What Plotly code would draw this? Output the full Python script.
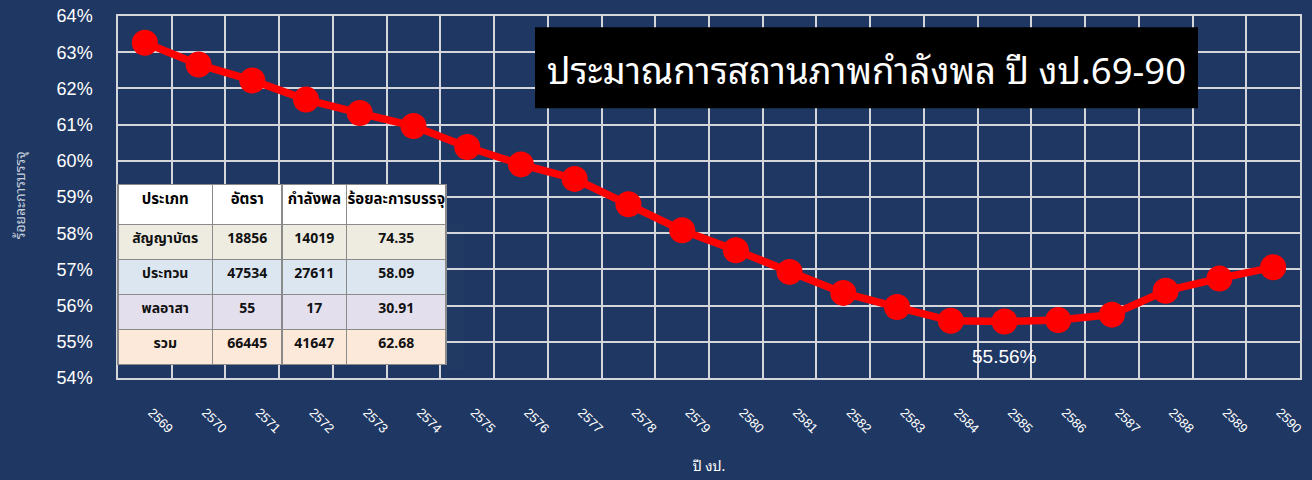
import plotly.graph_objects as go

years = list(range(2569, 2591))
year_labels = [str(y) for y in years]
rates = [63.26, 62.66, 62.22, 61.69, 61.32, 60.96, 60.38, 59.90, 59.50, 58.80, 58.08,
         57.53, 56.93, 56.35, 55.96, 55.58, 55.56, 55.60, 55.75, 56.41, 56.75, 57.06]

y_ticks = list(range(54, 65))
y_labels = [f"{v}%" for v in y_ticks]

tbl_header = ["ประเภท", "อัตรา", "กำลังพล", "ร้อยละการบรรจุ"]
tbl_types = ["สัญญาบัตร", "ประทวน", "พลอาสา", "รวม"]
tbl_posts = ["18856", "47534", "55", "66445"]
tbl_staff = ["14019", "27611", "17", "41647"]
tbl_pct = ["74.35", "58.09", "30.91", "62.68"]
row_colors = ["#eeece1", "#dce6f1", "#e4dfec", "#fde9d9"]

title_text = "ประมาณการสถานภาพกำลังพล ปี งป.69-90"
min_label = "55.56%"
min_year = 2585
min_value = 55.56

BG = "#1f3863"
GRID = "#d4d6db"
FONT = "Liberation Sans, Arial, sans-serif"
THAI = "Noto Sans Thai Looped, Noto Sans Thai, Loma, Garuda, Liberation Sans, sans-serif"
NARROW = "Liberation Sans Narrow, Noto Sans Thai, sans-serif"

fig = go.Figure()

fig.add_trace(go.Scatter(
    x=years, y=rates, mode="lines+markers",
    line=dict(color="#ff0000", width=7.5),
    marker=dict(color="#ff0000", size=26),
    showlegend=False,
))

fig.add_trace(go.Table(
    domain=dict(x=[0.0, 0.2775], y=[0.02, 0.535]),
    columnwidth=[95, 70, 65, 100],
    header=dict(values=tbl_header, fill_color="white", height=40,
                line=dict(color="#8a8a8a", width=1.5), align="center",
                font=dict(family=NARROW, size=15, color="black", weight="bold")),
    cells=dict(values=[tbl_types, tbl_posts, tbl_staff, tbl_pct],
               fill_color=[row_colors] * 4, height=35,
               line=dict(color="#8a8a8a", width=1.5), align="center",
               font=dict(family=NARROW, size=14, color="#111111", weight="bold")),
))

fig.add_shape(type="rect", xref="paper", yref="paper",
              x0=0.3528, x1=0.9137, y0=0.745, y1=0.969,
              fillcolor="black", line=dict(width=0), layer="above")
fig.add_annotation(xref="paper", yref="paper", x=0.6333, y=0.857,
                   xanchor="center", yanchor="middle",
                   text=title_text, showarrow=False,
                   font=dict(family=THAI, size=36.5, color="white"))

fig.add_annotation(x=min_year, y=min_value, text=min_label, showarrow=False,
                   xanchor="center", yanchor="middle",
                   yshift=-35, font=dict(family=FONT, size=19, color="white"))

fig.add_annotation(xref="paper", yref="paper", x=-0.0846, y=0.505,
                   xanchor="center", yanchor="middle",
                   text="ร้อยละการบรรจุ", textangle=-90, showarrow=False,
                   font=dict(family=THAI, size=14, color="#c9d0dc"))

fig.update_layout(
    width=1312, height=480,
    margin=dict(l=118, r=12, t=16, b=102),
    paper_bgcolor=BG, plot_bgcolor=BG,
    xaxis=dict(range=[years[0] - 0.5, years[-1] + 0.5], automargin=False,
               tickmode="array", tickvals=years, ticktext=year_labels,
               showgrid=False, tickangle=45, ticklabelshift=7,
               ticks="outside", ticklen=20, tickcolor="rgba(0,0,0,0)",
               tickfont=dict(family=FONT, size=13, color="white"),
               minor=dict(tick0=years[0] - 0.5, dtick=1, showgrid=True,
                          gridcolor=GRID, gridwidth=1.5),
               showline=True, linecolor=GRID, linewidth=1.5, mirror=True,
               title=dict(text="ปี งป.", font=dict(family=THAI, size=14, color="white"),
                          standoff=26),
               zeroline=False),
    yaxis=dict(range=[54, 64], tickmode="array", tickvals=y_ticks, ticktext=y_labels,
               automargin=False,
               showgrid=True, gridcolor=GRID, gridwidth=1.5,
               ticks="outside", ticklen=20, tickcolor="rgba(0,0,0,0)",
               tickfont=dict(family=FONT, size=18, color="white"),
               showline=True, linecolor=GRID, linewidth=1.5, mirror=True,
               zeroline=False),
)

fig.write_html("out.html", config={"displayModeBar": False},
               post_script="document.body.style.margin='0';")
